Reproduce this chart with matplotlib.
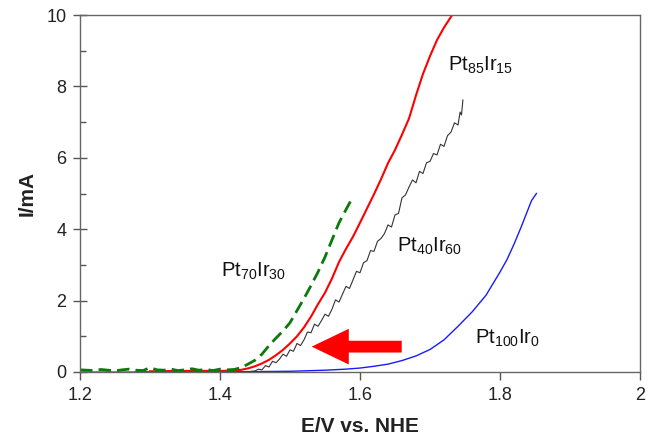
import matplotlib
matplotlib.use('Agg')
import matplotlib.pyplot as plt
from matplotlib.ticker import MultipleLocator

plt.rcParams['font.family'] = ['Liberation Sans', 'DejaVu Sans']
plt.rcParams['mathtext.default'] = 'regular'

# Pt85Ir15 (red)
x_red = [1.30, 1.35, 1.40, 1.42, 1.43, 1.44, 1.45, 1.46, 1.47, 1.48, 1.49, 1.50,
         1.51, 1.52, 1.53, 1.54, 1.55, 1.56, 1.57, 1.58, 1.59, 1.60, 1.61, 1.62,
         1.63, 1.64, 1.65, 1.66, 1.67, 1.68, 1.69, 1.70, 1.71, 1.72, 1.73, 1.735]
y_red = [0.02, 0.03, 0.03, 0.04, 0.06, 0.10, 0.16, 0.24, 0.34, 0.47, 0.62, 0.80,
         1.00, 1.25, 1.55, 1.90, 2.22, 2.62, 3.08, 3.45, 3.79, 4.18, 4.58, 4.98,
         5.40, 5.85, 6.22, 6.65, 7.10, 7.75, 8.35, 8.85, 9.30, 9.65, 9.95, 10.1]

# Pt70Ir30 (green dashed)
x_green = [1.20, 1.21, 1.22, 1.23, 1.24, 1.25, 1.26, 1.27, 1.28, 1.29, 1.30, 1.31,
           1.32, 1.33, 1.34, 1.35, 1.36, 1.37, 1.38, 1.39, 1.40, 1.41, 1.42, 1.43,
           1.44, 1.45, 1.46, 1.47, 1.48, 1.49, 1.50, 1.51, 1.52, 1.53, 1.54, 1.55,
           1.56, 1.57, 1.58, 1.59]
y_green = [0.06, 0.05, 0.04, 0.07, 0.05, 0.03, 0.06, 0.08, 0.05, 0.04, 0.12, 0.06,
           0.05, 0.08, 0.04, 0.06, 0.09, 0.05, 0.07, 0.04, 0.08, 0.06, 0.07, 0.12,
           0.22, 0.33, 0.50, 0.74, 0.95, 1.15, 1.38, 1.72, 2.06, 2.42, 2.80, 3.22,
           3.70, 4.18, 4.55, 4.91]

# Pt40Ir60 (black, noisy)
x_black = [1.20, 1.30, 1.40, 1.440, 1.445, 1.450, 1.455, 1.460, 1.465, 1.470, 1.475,
           1.480, 1.485, 1.490, 1.495, 1.500, 1.505, 1.510, 1.515, 1.520, 1.525,
           1.530, 1.535, 1.540, 1.545, 1.550, 1.555, 1.560, 1.565, 1.570, 1.575,
           1.580, 1.585, 1.590, 1.595, 1.600, 1.605, 1.610, 1.615, 1.620, 1.625,
           1.630, 1.635, 1.640, 1.645, 1.650, 1.655, 1.660, 1.665, 1.670, 1.675,
           1.680, 1.685, 1.690, 1.695, 1.700, 1.705, 1.710, 1.715, 1.720, 1.725,
           1.730, 1.735, 1.740, 1.743, 1.745, 1.747]
y_black = [0.0, 0.0, 0.0, 0.00, 0.02, 0.03, 0.08, 0.06, 0.18, 0.14, 0.30,
           0.26, 0.36, 0.50, 0.44, 0.62, 0.58, 0.80, 0.74, 0.90, 1.12,
           1.10, 1.34, 1.28, 1.44, 1.62, 1.56, 1.76, 2.02, 1.96, 2.18,
           2.40, 2.34, 2.58, 2.82, 2.78, 3.06, 3.12, 3.40, 3.38, 3.66,
           3.74, 3.88, 4.12, 4.06, 4.40, 4.44, 4.88, 4.96, 5.18, 5.38,
           5.30, 5.62, 5.56, 5.86, 5.90, 6.12, 6.08, 6.38, 6.32, 6.62,
           6.72, 6.98, 6.92, 7.28, 7.20, 7.62]

# Pt100Ir0 (blue)
x_blue = [1.28, 1.40, 1.45, 1.50, 1.55, 1.58, 1.60, 1.62, 1.64, 1.66, 1.68, 1.70,
          1.72, 1.74, 1.76, 1.78, 1.80, 1.81, 1.82, 1.83, 1.84, 1.845, 1.852]
y_blue = [0.0, 0.0, 0.01, 0.02, 0.05, 0.08, 0.11, 0.16, 0.22, 0.32, 0.45, 0.63,
          0.90, 1.28, 1.68, 2.15, 2.80, 3.15, 3.58, 4.05, 4.55, 4.80, 5.00]

fig = plt.figure(figsize=(6.54, 4.43), dpi=100)
ax = fig.add_axes([0.1223, 0.1603, 0.8563, 0.8058])

ax.plot(x_blue, y_blue, color='#1a1aff', lw=1.0)
ax.plot(x_black, y_black, color='#333333', lw=0.8)
ax.plot(x_red, y_red, color='#ff0000', lw=1.5)
ax.plot(x_green, y_green, color='#0a7a0a', lw=2.0, dashes=(4.5, 2.2))

ax.arrow(1.6596, 0.71, -0.1286, 0, width=0.33, head_width=1.0, head_length=0.053,
         length_includes_head=True, color='#ff0000', lw=0)

ax.text(1.726, 8.44, r'Pt$_{85}$Ir$_{15}$', fontsize=14.5, color='#111111')
ax.text(1.401, 2.67, r'Pt$_{70}$Ir$_{30}$', fontsize=14.5, color='#111111')
ax.text(1.653, 3.37, r'Pt$_{40}$Ir$_{60}$', fontsize=14.5, color='#111111')
ax.text(1.764, 0.80, r'Pt$_{100}$Ir$_{0}$', fontsize=14.5, color='#111111')

ax.set_xlim(1.2, 2.0)
ax.set_ylim(0, 10)
ax.yaxis.set_major_locator(MultipleLocator(2))
ax.yaxis.set_minor_locator(MultipleLocator(1))
ax.set_xticks([1.2, 1.4, 1.6, 1.8, 2.0])
ax.set_xticklabels(['1.2', '1.4', '1.6', '1.8', '2'])

for s in ax.spines.values():
    s.set_color('#666666')
    s.set_linewidth(1.0)
ax.tick_params(axis='x', which='major', direction='out', length=5.5, width=1,
               color='#555555', labelsize=13, pad=5, labelcolor='#222222')
ax.tick_params(axis='y', which='major', direction='inout', length=9.5, width=1,
               color='#555555', labelsize=13, pad=5, labelcolor='#222222')
ax.tick_params(axis='y', which='minor', direction='in', length=4.5, width=1,
               color='#555555')

ax.set_xlabel('E/V vs. NHE', fontsize=15, fontweight='bold', color='#222222', labelpad=10)
ax.set_ylabel('I/mA', fontsize=15, fontweight='bold', color='#222222', labelpad=7)

fig.savefig('out.png', dpi=100)
